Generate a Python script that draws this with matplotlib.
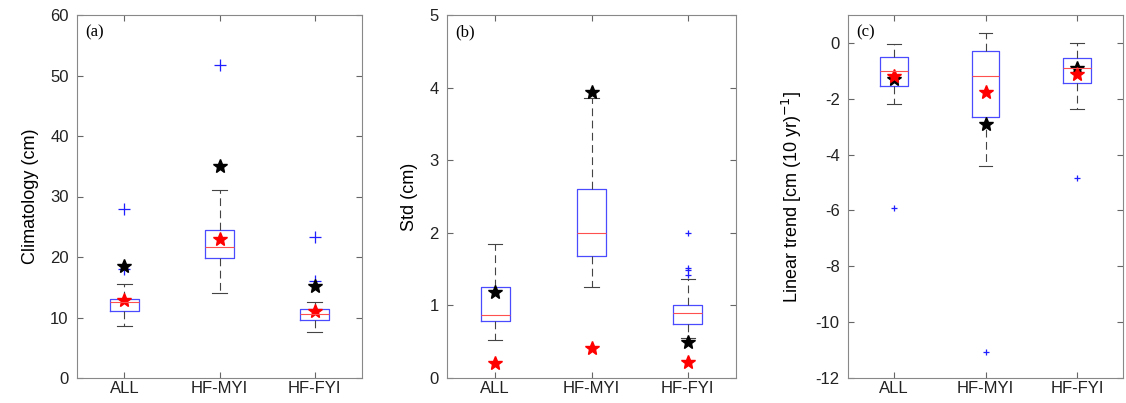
import numpy as np
import matplotlib.pyplot as plt

plt.rcParams['font.family'] = ['Liberation Sans', 'DejaVu Sans']
plt.rcParams['axes.unicode_minus'] = False

groups = ['ALL', 'HF-MYI', 'HF-FYI']

# (a) climatology
clim_q1 = [11.1, 19.8, 9.6]
clim_med = [12.5, 21.6, 10.5]
clim_q3 = [13.1, 24.4, 11.4]
clim_lo = [8.6, 14.0, 7.55]
clim_hi = [15.6, 31.1, 12.6]
clim_fliers = [[28.0, 18.0], [51.8], [23.3, 16.05]]
clim_red = [12.9, 22.9, 11.0]
clim_black = [18.5, 35.1, 15.2]

# (b) std
std_q1 = [0.78, 1.68, 0.75]
std_med = [0.87, 2.0, 0.89]
std_q3 = [1.25, 2.61, 1.0]
std_lo = [0.52, 1.26, 0.55]
std_hi = [1.85, 3.855, 1.36]
std_fliers = [[], [], [2.0, 1.52, 1.49, 1.42]]
std_red = [0.21, 0.41, 0.22]
std_black = [1.19, 3.94, 0.5]

# (c) linear trend
tr_q1 = [-1.55, -2.67, -1.43]
tr_med = [-1.01, -1.18, -0.91]
tr_q3 = [-0.49, -0.3, -0.54]
tr_lo = [-2.18, -4.39, -2.38]
tr_hi = [-0.04, 0.34, 0.0]
tr_fliers = [[-5.9], [-11.07], [-4.85]]
tr_red = [-1.17, -1.74, -1.13]
tr_black = [-1.3, -2.92, -0.9]

panels = [
    dict(q1=clim_q1, med=clim_med, q3=clim_q3, lo=clim_lo, hi=clim_hi, fl=clim_fliers,
         red=clim_red, black=clim_black, ylim=(0, 60), yticks=np.arange(0, 61, 10),
         ylabel='Climatology (cm)', tag='(a)', flsize=9),
    dict(q1=std_q1, med=std_med, q3=std_q3, lo=std_lo, hi=std_hi, fl=std_fliers,
         red=std_red, black=std_black, ylim=(0, 5), yticks=np.arange(0, 6, 1),
         ylabel='Std (cm)', tag='(b)', flsize=5),
    dict(q1=tr_q1, med=tr_med, q3=tr_q3, lo=tr_lo, hi=tr_hi, fl=tr_fliers,
         red=tr_red, black=tr_black, ylim=(-12, 1), yticks=np.arange(-12, 1, 2),
         ylabel='Linear trend [cm (10 yr)$^{-1}$]', tag='(c)', flsize=5),
]

fig = plt.figure(figsize=(11.26, 4.03), dpi=100)
lefts = [77, 447, 848]
widths = [285, 289, 275]
pos = [1, 2, 3]

for p, l, w in zip(panels, lefts, widths):
    ax = fig.add_axes([l / 1126, 25 / 403, w / 1126, 363 / 403])
    stats = []
    for i in range(3):
        stats.append(dict(q1=p['q1'][i], med=p['med'][i], q3=p['q3'][i],
                          whislo=p['lo'][i], whishi=p['hi'][i], fliers=p['fl'][i]))
    ax.bxp(stats, positions=pos, widths=0.3, showfliers=True,
           boxprops=dict(color='#4a4aff', linewidth=0.9),
           medianprops=dict(color='#ff5050', linewidth=0.8),
           whiskerprops=dict(color='#444444', linewidth=0.8, linestyle=(0, (7, 4))),
           capprops=dict(color='#444444', linewidth=0.8),
           capwidths=0.15,
           flierprops=dict(marker='+', markeredgecolor='#1f1fff', markersize=p['flsize'],
                           markeredgewidth=0.9, linestyle='none'))
    ax.plot(pos, p['black'], linestyle='none', marker='*', color='black', markersize=10)
    ax.plot(pos, p['red'], linestyle='none', marker='*', color='red', markersize=10)
    ax.set_xlim(0.5, 3.5)
    ax.set_ylim(*p['ylim'])
    ax.set_yticks(p['yticks'])
    ax.set_xticks(pos)
    ax.set_xticklabels(groups)
    ax.set_ylabel(p['ylabel'], fontsize=13, labelpad=8)
    ax.tick_params(direction='in', top=True, right=True, labelsize=12,
                   color='#666666', length=4, labelcolor='#222222')
    ax.tick_params(axis='x', pad=2)
    ax.tick_params(axis='y', pad=6)
    for s in ax.spines.values():
        s.set_color('#888888')
    ax.text(0.03, 0.975, p['tag'], transform=ax.transAxes, va='top', ha='left',
            fontsize=12, family=['Liberation Serif', 'DejaVu Serif'])

fig.savefig('out.png', dpi=100)
